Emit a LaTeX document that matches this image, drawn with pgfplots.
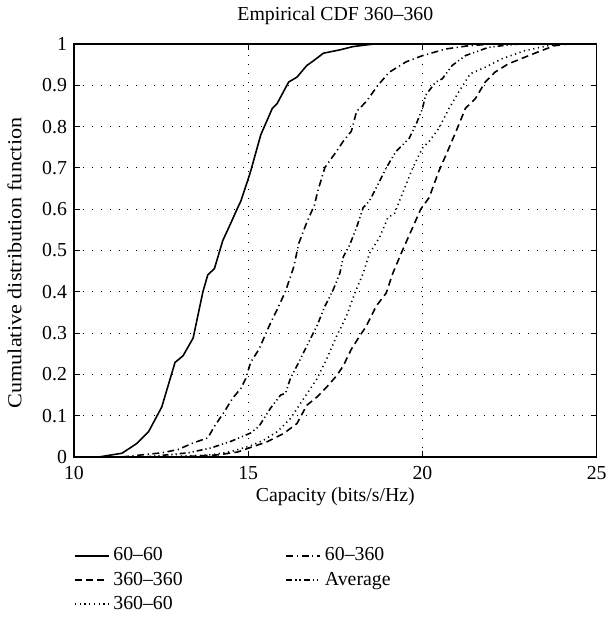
\documentclass[border=0pt]{standalone}
\usepackage{fontspec}
\setmainfont{Liberation Serif}
\usepackage{graphicx}
\usepackage{pgfplots}
\pgfplotsset{compat=1.18}
\begin{document}
\fontsize{10pt}{12pt}\selectfont
\begin{tikzpicture}
\begin{axis}[
  scale only axis,
  width=264pt, height=208.5pt,
  xmin=10, xmax=25, ymin=0, ymax=1,
  xtick={10,15,20,25},
  ytick={0,0.1,0.2,0.3,0.4,0.5,0.6,0.7,0.8,0.9,1},
  /pgf/number format/assume math mode=true,
  yticklabel style={/pgf/number format/fixed,/pgf/number format/precision=1},
  tick align=inside,
  major tick length=3pt,
  axis line style={line width=0.7pt},
  every tick/.style={black, line width=0.5pt},
  grid=major,
  major grid style={black, line width=0.5pt, dash pattern=on 0.5pt off 4pt},
  font=\fontsize{10pt}{12pt}\selectfont,
  xticklabel style={anchor=base, yshift=-11.5pt},
  title={Empirical CDF 360--360},
  title style={at={(axis description cs:0.5,1.0288)}, anchor=base},
  xlabel={Capacity (bits/s/Hz)},
  xlabel style={at={(axis description cs:0.5,-0.1079)}, anchor=base},
  ylabel={\scalebox{1.12}[1]{Cumulative distribution function}},
  ylabel style={at={(axis description cs:-0.1004,0.47)}, anchor=base},
  legend style={at={(axis description cs:-0.012,-0.2)}, anchor=north west, draw=none, fill=none,
    font=\fontsize{10pt}{12pt}\selectfont,
    /tikz/every even column/.append style={column sep=50pt}},
  legend columns=2,
  legend cell align=left,
]
% 60-60
\addplot[black, line width=0.8pt] coordinates {
(10.72,0) (11.38,0.009) (11.81,0.033) (12.14,0.061) (12.52,0.121) (12.90,0.229) (13.13,0.245) (13.42,0.288) (13.70,0.400) (13.84,0.441) (14.03,0.456) (14.27,0.524) (14.51,0.568) (14.70,0.604) (14.79,0.620) (14.98,0.668) (15.07,0.692) (15.36,0.780) (15.69,0.844) (15.83,0.856) (16.16,0.908) (16.40,0.920) (16.68,0.948) (16.88,0.960) (17.16,0.978) (17.63,0.986) (18.01,0.994) (18.39,0.998) (18.6,1)
};
\addlegendentry{60--60}
% 60-360
\addplot[black, line width=0.8pt, dash pattern=on 3.5pt off 1.8pt on 0.6pt off 1.8pt] coordinates {
(11.38,0) (12.52,0.01) (12.99,0.018) (13.42,0.034) (13.84,0.046) (14.03,0.074) (14.32,0.110) (14.55,0.142) (14.79,0.166) (14.93,0.190) (15.07,0.229) (15.31,0.261) (15.60,0.317) (15.83,0.357) (16.07,0.401) (16.31,0.461) (16.45,0.517) (16.68,0.568) (16.90,0.610) (17.0,0.645) (17.20,0.701) (17.54,0.741) (17.73,0.765) (17.96,0.789) (18.11,0.837) (18.39,0.861) (18.72,0.900) (19.05,0.932) (19.53,0.957) (20.0,0.972) (20.66,0.988) (21.32,0.996) (21.99,1)
};
\addlegendentry{60--360}
% 360-360
\addplot[black, line width=0.8pt, dash pattern=on 3.5pt off 2.2pt] coordinates {
(12.99,0) (14.13,0.005) (14.70,0.012) (15.07,0.023) (15.55,0.037) (16.02,0.057) (16.40,0.081) (16.68,0.125) (16.97,0.145) (17.25,0.169) (17.54,0.197) (17.73,0.221) (17.96,0.261) (18.20,0.293) (18.39,0.317) (18.67,0.365) (18.96,0.397) (19.15,0.445) (19.43,0.501) (19.72,0.556) (19.95,0.600) (20.19,0.628) (20.47,0.692) (20.76,0.748) (21.04,0.804) (21.23,0.844) (21.52,0.868) (21.80,0.908) (22.08,0.932) (22.46,0.952) (22.93,0.968) (23.41,0.984) (23.78,0.996) (24.16,1)
};
\addlegendentry{360--360}
% Average
\addplot[black, line width=0.8pt, dash pattern=on 3pt off 1.5pt on 0.6pt off 1.5pt on 0.6pt off 1.5pt] coordinates {
(12.05,0) (13.28,0.01) (13.94,0.022) (14.51,0.038) (15.07,0.058) (15.31,0.074) (15.64,0.118) (15.93,0.150) (16.07,0.154) (16.21,0.190) (16.45,0.229) (16.73,0.277) (16.97,0.317) (17.20,0.365) (17.44,0.405) (17.63,0.445) (17.73,0.485) (17.91,0.513) (18.11,0.556) (18.30,0.604) (18.48,0.620) (18.77,0.668) (18.96,0.700) (19.24,0.740) (19.62,0.772) (19.81,0.804) (20.0,0.844) (20.09,0.876) (20.38,0.908) (20.57,0.916) (20.85,0.948) (21.23,0.972) (21.89,0.992) (22.46,0.998) (22.8,1)
};
\addlegendentry{Average}
% 360-60
\addplot[black, line width=0.8pt, dash pattern=on 0.6pt off 1.8pt] coordinates {
(12.52,0) (13.94,0.005) (14.51,0.013) (15.07,0.027) (15.45,0.041) (15.83,0.061) (16.21,0.093) (16.59,0.141) (16.97,0.189) (17.25,0.237) (17.54,0.293) (17.82,0.341) (18.06,0.397) (18.30,0.445) (18.48,0.493) (18.77,0.532) (19.01,0.580) (19.20,0.590) (19.53,0.660) (19.72,0.700) (20.0,0.748) (20.19,0.764) (20.47,0.796) (20.76,0.844) (21.04,0.884) (21.37,0.928) (21.80,0.944) (22.27,0.964) (22.93,0.984) (23.60,0.996) (23.9,1)
};
\addlegendentry{360--60}
\end{axis}
\path (current axis.south west) ++(-37.35pt,-81.5pt) rectangle ++(310pt,307.5pt);
\end{tikzpicture}
\end{document}
